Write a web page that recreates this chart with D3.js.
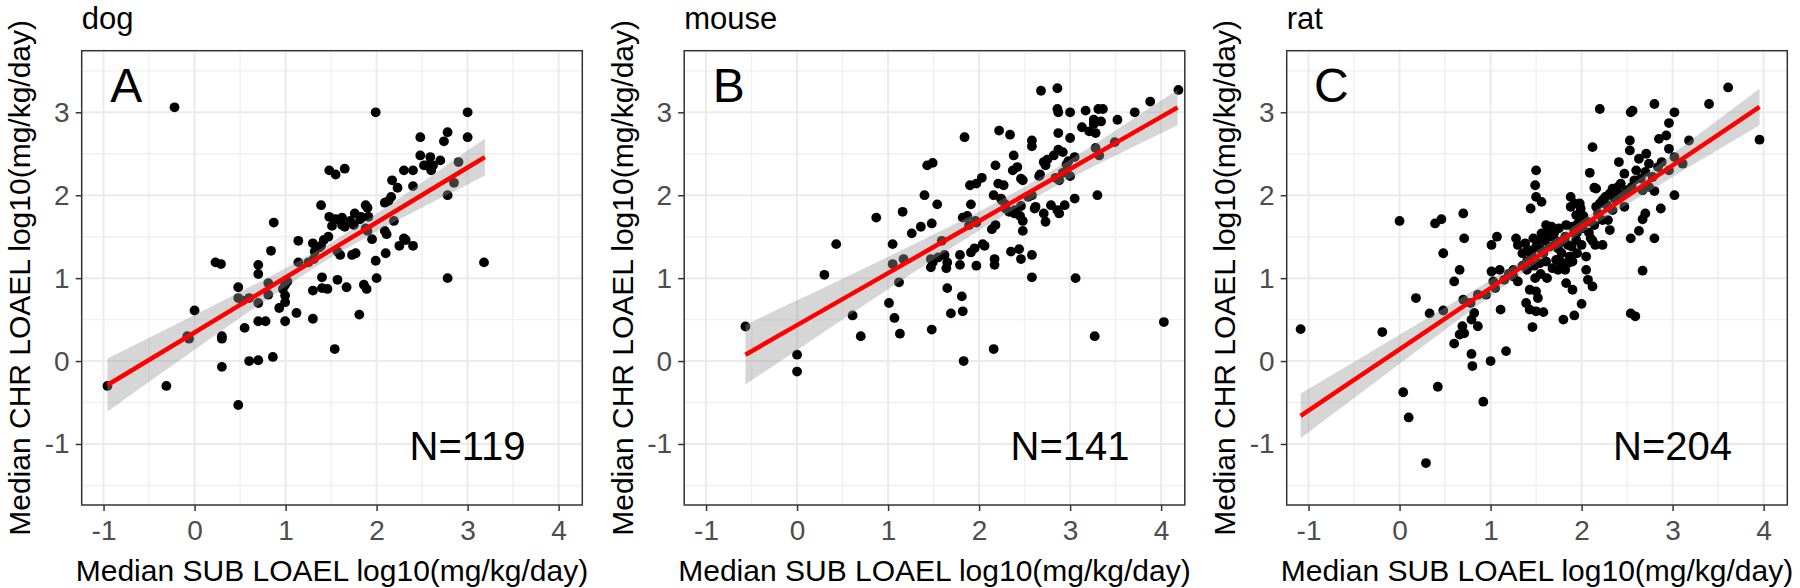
<!DOCTYPE html>
<html>
<head>
<meta charset="utf-8">
<script src="https://cdn.jsdelivr.net/npm/d3@7"></script>
<style>
  html, body { margin: 0; padding: 0; background: #ffffff; }
  svg { display: block; font-family: "Liberation Sans", Arial, Helvetica, sans-serif; }
</style>
</head>
<body>
<svg id="chart" width="1800" height="588"></svg>
<script>
// ---------------- DATA ----------------
const species = ["dog", "mouse", "rat"];
const panelLetters = ["A", "B", "C"];
const sampleSizes = ["N=119", "N=141", "N=204"];
const xTicks = [-1, 0, 1, 2, 3, 4];
const yTicks = [-1, 0, 1, 2, 3];
const xMinorTicks = [-0.5, 0.5, 1.5, 2.5, 3.5];
const yMinorTicks = [-1.5, -0.5, 0.5, 1.5, 2.5, 3.5];
const xTitle = "Median SUB LOAEL log10(mg/kg/day)";
const yTitle = "Median CHR LOAEL log10(mg/kg/day)";

const dogPoints = [
  [-0.957,-0.30],[-0.22,3.06],[-0.31,-0.30],[-0.06,0.27],[0.0,0.61],[0.23,1.19],[0.29,1.17],[0.30,0.30],[0.30,0.27],[0.30,-0.07],
  [0.48,0.89],[0.48,0.76],[0.53,0.73],[0.48,-0.53],[0.55,0.40],[0.60,0.0],[0.70,0.01],[0.70,1.16],[0.70,1.05],[0.70,0.70],
  [0.70,0.48],[0.78,0.48],[0.81,0.80],[0.84,1.33],[0.87,1.67],[0.86,0.05],[0.81,0.94],[0.93,0.64],[0.995,0.92],[0.995,0.79],
  [0.995,0.71],[0.995,0.48],[1.02,0.96],[1.12,0.58],[1.14,1.45],[1.14,1.19],[1.25,1.19],[1.30,1.42],[1.32,1.32],[1.30,0.85],
  [1.30,0.51],[1.39,1.39],[1.39,1.88],[1.40,1.01],[1.40,0.88],[1.46,0.87],[1.47,1.50],[1.48,2.30],[1.48,1.74],[1.55,2.25],
  [1.54,0.145],[1.55,1.71],[1.57,1.32],[1.57,0.98],[1.60,1.28],[1.62,1.73],[1.65,2.32],[1.65,1.62],[1.67,0.89],[1.71,1.69],
  [1.73,1.28],[1.75,1.64],[1.76,1.78],[1.77,1.30],[1.81,0.56],[1.83,1.74],[1.88,1.88],[1.88,1.60],[1.86,0.92],[1.89,0.87],
  [1.91,1.74],[1.95,1.47],[1.99,3.00],[1.99,1.21],[2.00,1.00],[2.09,1.91],[2.09,1.57],[2.10,1.30],[2.16,1.98],[2.17,2.18],
  [2.19,1.69],[2.23,2.09],[2.25,1.39],[2.30,2.30],[2.30,1.48],[2.40,2.30],[2.40,2.11],[2.40,1.39],[2.48,2.70],[2.48,2.48],
  [2.52,2.36],[2.59,2.46],[2.60,2.30],[2.62,2.36],[2.70,2.42],[2.74,2.65],[2.78,2.76],[2.78,2.00],[2.78,1.00],[2.85,2.15],
  [2.90,2.40],[3.00,3.00],[3.00,2.70],[3.18,1.19],[-0.08,0.30],[1.51,1.63],[2.11,1.53],[1.90,1.57],[0.97,0.87],[1.31,1.23],
  [1.42,1.46],[2.55,2.36],[1.62,1.64],[2.32,1.46],[0.60,0.76],[1.90,1.85],[1.82,1.71],[2.13,1.93],[1.37,1.37]
];

const mousePoints = [
  [-0.567,0.417],[0,0.077],[0,-0.127],[0.30,1.04],[0.43,1.41],[0.61,0.55],[0.70,0.30],[0.87,1.73],[1.01,0.70],[1.05,1.41],
  [1.05,1.17],[1.07,0.52],[1.12,0.95],[1.13,0.33],[1.16,1.80],[1.17,1.23],[1.26,1.54],[1.36,1.62],[1.40,2.00],[1.43,2.36],
  [1.49,2.39],[1.48,1.66],[1.48,0.38],[1.47,1.23],[1.47,1.13],[1.54,1.89],[1.55,1.25],[1.59,1.45],[1.64,1.12],[1.65,1.19],
  [1.65,0.88],[1.69,0.575],[1.79,1.28],[1.79,1.16],[1.81,0.78],[1.82,0.60],[1.83,0.0],[1.84,2.70],[1.82,1.73],[1.89,1.64],
  [1.91,1.89],[1.90,2.12],[1.91,1.31],[1.95,1.36],[1.97,1.15],[1.97,2.14],[1.96,1.69],[2.03,2.21],[2.06,1.39],[2.14,1.59],
  [2.16,0.145],[2.17,1.23],[2.17,1.16],[2.16,2.00],[2.18,2.36],[2.21,2.14],[2.22,2.78],[2.24,1.96],[2.27,2.12],[2.29,1.84],
  [2.33,1.80],[2.34,2.73],[2.35,1.32],[2.37,2.30],[2.38,2.48],[2.39,1.78],[2.42,2.34],[2.44,1.35],[2.45,1.75],[2.46,1.87],
  [2.48,2.18],[2.48,1.69],[2.48,1.57],[2.58,1.28],[2.58,1.01],[2.58,2.66],[2.58,2.59],[2.58,2.00],[2.61,1.84],[2.66,2.23],
  [2.68,3.26],[2.71,2.40],[2.71,1.78],[2.73,1.68],[2.75,2.43],[2.79,1.88],[2.82,2.48],[2.84,2.21],[2.86,3.29],[2.86,3.04],
  [2.87,3.00],[2.87,2.75],[2.87,2.55],[2.88,2.18],[2.88,1.78],[2.92,2.52],[2.94,1.88],[3.00,3.00],[3.00,2.69],[3.00,2.23],
  [3.05,2.46],[3.06,1.00],[3.13,2.82],[3.17,3.02],[3.26,2.91],[3.27,0.30],[3.28,2.75],[3.28,2.57],[3.30,2.00],[3.31,3.04],
  [3.32,2.48],[3.34,2.89],[3.36,3.04],[3.49,2.64],[3.52,2.91],[3.71,3.00],[3.88,3.13],[4.03,0.47],[4.19,3.27],[2.92,2.27],
  [2.98,2.41],[2.46,1.23],[2.54,1.98],[2.73,2.36],[2.29,1.89],[1.87,1.75],[2.04,1.41],[3.05,1.96],[1.49,1.19],[2.39,1.82],
  [3.26,2.86],[2.86,1.82],[2.67,2.25],[2.96,2.37],[2.25,1.94],[1.97,1.67],[1.62,1.28],[2.62,1.86],[3.21,2.77],[2.46,2.20],
  [2.18,1.64]
];

const ratPoints = [
  [-1.087,0.385],[-0.19,0.35],[0.0,1.69],[0.04,-0.376],[0.10,-0.68],[0.18,0.76],[0.29,-1.23],[0.33,0.575],[0.39,1.66],[0.46,1.71],
  [0.42,-0.31],[0.48,1.30],[0.48,0.61],[0.60,0.96],[0.60,0.21],[0.66,1.10],[0.70,1.78],[0.71,1.48],[0.69,0.42],[0.71,0.335],
  [0.79,0.086],[0.80,-0.06],[0.92,-0.49],[1.00,0.00],[1.17,0.12],[1.11,0.62],[2.54,0.575],[2.59,0.54],[2.67,1.09],[2.20,3.04],
  [2.54,3.00],[2.56,3.02],[2.80,3.10],[3.02,3.00],[3.02,2.00],[3.40,3.10],[3.61,3.30],[3.955,2.67],[3.18,2.66],[2.96,2.87],
  [2.80,1.48],[2.87,1.84],[2.80,2.05],[2.54,1.48],[2.63,1.57],[2.67,1.71],[2.70,1.78],[2.12,2.58],[2.09,2.27],[2.14,2.09],
  [0.70,0.74],[0.78,0.70],[0.86,0.80],[0.82,0.58],[0.86,0.42],[0.79,0.50],[0.66,0.32],
  [1.01,1.40],[1.07,1.50],[1.01,1.08],[1.10,1.10],[1.03,0.96],[1.28,1.48],[1.38,1.42],[1.47,1.48],[1.50,1.38],[1.30,0.96],
  [1.41,1.34],[1.45,1.26],[1.49,1.0],[1.43,0.86],[1.50,0.84],[1.52,0.76],[1.39,0.70],[1.43,0.62],[1.50,0.60],[1.58,0.59],
  [1.46,0.41],[1.50,2.30],[1.49,2.12],[1.50,1.98],[1.56,1.92],[1.44,1.84],[1.61,1.64],[1.67,1.62],[1.56,1.54],[1.68,1.50],
  [1.65,1.38],[1.58,1.30],[1.54,1.18],[1.61,1.20],[1.74,1.36],[1.78,1.44],[1.72,1.22],[1.80,1.18],[1.74,1.10],[1.85,1.18],
  [1.87,1.26],[1.83,1.64],[1.88,1.98],[1.92,1.90],[1.88,1.86],[1.98,1.90],[1.99,1.84],[1.94,1.76],[1.98,1.70],[2.01,1.60],
  [1.92,1.54],[1.94,1.46],[1.89,1.38],[1.83,0.94],[1.90,0.86],[1.80,0.50],[1.92,0.55],[2.00,0.69],[2.05,1.26],[2.05,1.10],
  [2.07,0.98],[2.12,0.90],[2.10,1.48],[2.15,1.40],[2.23,1.40],[2.14,1.64],[2.23,1.70],[2.29,1.70],[2.31,1.58],[2.16,2.08],
  [2.16,1.86],[2.23,1.94],[2.31,2.02],[2.34,2.08],[2.40,2.10],[2.43,2.14],[2.47,2.26],[2.41,2.40],[2.34,1.82],[2.47,1.86],
  [2.53,2.66],[2.53,2.54],[2.60,2.30],[2.63,2.44],[2.71,2.50],[2.67,2.06],[2.74,2.10],[2.85,2.68],[2.93,2.72],[2.96,2.56],
  [3.02,2.46],[2.84,2.34],[2.96,2.30],[3.11,2.38],[2.74,2.38],
  [1.20,1.05],[1.25,1.02],[1.35,1.15],[1.40,1.20],[1.45,1.30],[1.52,1.45],[1.55,1.35],[1.60,1.45],[1.62,1.55],[1.70,1.55],
  [1.72,1.45],[1.75,1.60],[1.78,1.30],[1.82,1.50],[1.85,1.40],[1.90,1.62],[1.95,1.55],[1.96,1.66],[2.02,1.75],[2.06,1.68],
  [2.08,1.55],[2.12,1.45],[2.18,1.78],[2.20,1.90],[2.26,1.98],[2.28,1.88],[2.36,1.96],[2.38,2.02],[2.44,2.00],[2.50,2.06],
  [2.55,2.10],[2.58,2.18],[2.65,2.20],[2.70,2.28],[2.78,2.22],[2.88,2.40],[1.68,1.12],[1.76,1.20],[1.82,1.10],[1.90,1.20],
  [1.95,1.30],[2.00,1.40],[1.40,1.10],[1.48,1.15],[1.55,1.05],[1.62,1.00],[1.30,1.40],[1.35,1.30],[1.25,1.10],[0.95,0.80],
  [1.05,0.88],[1.15,0.98]
];

// Linear fit and 95% confidence band: [x, fit, lower, upper]
const dogFit = [
  [-0.957,-0.289,-0.609,0.031],[0,0.345,0.136,0.554],[0.5,0.677,0.521,0.833],[1,1.008,0.897,1.119],
  [1.5,1.340,1.249,1.431],[2,1.671,1.563,1.779],[2.5,2.003,1.852,2.154],[3,2.334,2.130,2.538],[3.19,2.460,2.235,2.685]
];
const mouseFit = [
  [-0.567,0.077,-0.283,0.437],[0,0.433,0.134,0.732],[0.5,0.747,0.500,0.994],[1,1.061,0.865,1.257],
  [1.5,1.375,1.225,1.525],[2,1.689,1.574,1.804],[2.5,2.003,1.903,2.103],[3,2.317,2.202,2.432],
  [3.5,2.631,2.480,2.782],[4,2.945,2.748,3.142],[4.18,3.058,2.843,3.273]
];
const ratFit = [
  [-1.087,-0.661,-0.931,-0.391],[-0.5,-0.228,-0.446,-0.010],[0,0.142,-0.032,0.316],[0.5,0.512,0.379,0.645],
  [1,0.881,0.785,0.977],[1.5,1.251,1.179,1.323],[2,1.620,1.546,1.694],[2.5,1.990,1.889,2.091],
  [3,2.359,2.221,2.497],[3.5,2.729,2.549,2.909],[3.955,3.065,2.845,3.285]
];

const allPoints = [dogPoints, mousePoints, ratPoints];
const allFits = [dogFit, mouseFit, ratFit];

// ---------------- LAYOUT ----------------
const svg = d3.select("#chart");
const panelStep = 602.5;
const plotLeft = 81.7, plotTop = 50.7, plotW = 500.6, plotH = 454.3;
const xDomain = [-1.24, 4.26];
const yDomain = [-1.736, 3.743];

species.forEach((sp, i) => {
  const ox = i * panelStep;
  const L = ox + plotLeft, R = L + plotW, T = plotTop, B = plotTop + plotH;
  const x = d3.scaleLinear().domain(xDomain).range([L, R]);
  const y = d3.scaleLinear().domain(yDomain).range([B, T]);
  const g = svg.append("g");

  const clipId = "clip" + i;
  svg.append("clipPath").attr("id", clipId)
    .append("rect").attr("x", L).attr("y", T).attr("width", plotW).attr("height", plotH);

  g.append("rect").attr("x", L).attr("y", T).attr("width", plotW).attr("height", plotH).attr("fill", "#ffffff");

  const grid = g.append("g").attr("clip-path", `url(#${clipId})`);
  grid.selectAll(".vmin").data(xMinorTicks).join("line")
    .attr("x1", d => x(d)).attr("x2", d => x(d)).attr("y1", T).attr("y2", B)
    .attr("stroke", "#f0f0f0").attr("stroke-width", 1.4);
  grid.selectAll(".hmin").data(yMinorTicks).join("line")
    .attr("y1", d => y(d)).attr("y2", d => y(d)).attr("x1", L).attr("x2", R)
    .attr("stroke", "#f0f0f0").attr("stroke-width", 1.4);
  grid.selectAll(".vmaj").data(xTicks).join("line")
    .attr("x1", d => x(d)).attr("x2", d => x(d)).attr("y1", T).attr("y2", B)
    .attr("stroke", "#ebebeb").attr("stroke-width", 2);
  grid.selectAll(".hmaj").data(yTicks).join("line")
    .attr("y1", d => y(d)).attr("y2", d => y(d)).attr("x1", L).attr("x2", R)
    .attr("stroke", "#ebebeb").attr("stroke-width", 2);

  const plot = g.append("g").attr("clip-path", `url(#${clipId})`);

  plot.selectAll("circle").data(allPoints[i]).join("circle")
    .attr("cx", d => x(d[0])).attr("cy", d => y(d[1])).attr("r", 4.9)
    .attr("fill", "#000000");

  const area = d3.area()
    .x(d => x(d[0])).y0(d => y(d[2])).y1(d => y(d[3]))
    .curve(d3.curveMonotoneX);
  plot.append("path").datum(allFits[i]).attr("d", area)
    .attr("fill", "#999999").attr("fill-opacity", 0.4);

  const line = d3.line().x(d => x(d[0])).y(d => y(d[1]));
  plot.append("path").datum(allFits[i]).attr("d", line)
    .attr("fill", "none").attr("stroke", "#ff0000").attr("stroke-width", 4.5);

  g.append("text").attr("x", x(-0.75)).attr("y", y(3.12))
    .attr("text-anchor", "middle").attr("font-size", 48).attr("fill", "#000")
    .text(panelLetters[i]);
  g.append("text").attr("x", x(3.0)).attr("y", y(-1.19))
    .attr("text-anchor", "middle").attr("font-size", 40).attr("fill", "#000")
    .text(sampleSizes[i]);

  g.append("rect").attr("x", L).attr("y", T).attr("width", plotW).attr("height", plotH)
    .attr("fill", "none").attr("stroke", "#333333").attr("stroke-width", 1.5);

  const xAxis = d3.axisBottom(x).tickValues(xTicks).tickSize(6).tickPadding(9).tickFormat(d => String(d));
  const yAxis = d3.axisLeft(y).tickValues(yTicks).tickSize(6).tickPadding(6).tickFormat(d => String(d));
  const gx = g.append("g").attr("transform", `translate(0,${B})`).call(xAxis);
  const gy = g.append("g").attr("transform", `translate(${L},0)`).call(yAxis);
  [gx, gy].forEach(a => {
    a.select(".domain").remove();
    a.selectAll(".tick line").attr("stroke", "#333333").attr("stroke-width", 1.5);
    a.selectAll(".tick text").attr("fill", "#4d4d4d").attr("font-size", 28)
      .attr("font-family", "'Liberation Sans', Arial, sans-serif");
  });

  g.append("text").attr("x", L).attr("y", 29).attr("font-size", 31).attr("fill", "#000")
    .text(sp);
  g.append("text").attr("x", (L + R) / 2).attr("y", 581).attr("text-anchor", "middle")
    .attr("font-size", 30).attr("fill", "#000").text(xTitle);
  g.append("text").attr("transform", `translate(${ox + 30},${(T + B) / 2}) rotate(-90)`)
    .attr("text-anchor", "middle").attr("font-size", 30).attr("fill", "#000").text(yTitle);
});
</script>
</body>
</html>
